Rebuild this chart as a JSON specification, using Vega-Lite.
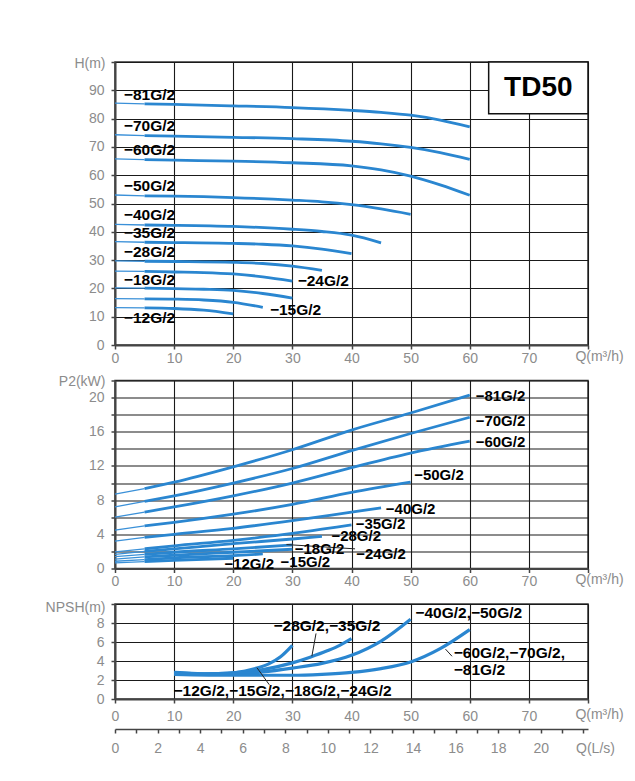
{
  "$schema": "https://vega.github.io/schema/vega-lite/v6.json",
  "background": "white",
  "padding": {"left": 44, "top": 54, "right": 5, "bottom": 5},
  "spacing": 35.5,
  "bounds": "flush",
  "config": {
    "font": "Liberation Sans",
    "view": {"stroke": "#333333", "strokeWidth": 1.5},
    "axis": {
      "labelFont": "Liberation Sans", "labelFontSize": 14, "labelColor": "#8c8c8c",
      "titleFont": "Liberation Sans", "titleFontSize": 14, "titleColor": "#8c8c8c", "titleFontWeight": "normal",
      "gridColor": "#1a1a1a", "gridOpacity": 1, "gridWidth": 1.1,
      "domainColor": "#444444", "domainWidth": 2, "tickColor": "#444444", "tickWidth": 1.5, "tickSize": 4,
      "labelFlush": false, "labelOverlap": false
    }
  },
  "datasets": {
    "H": [
      {"m":"81","q":0,"v":85.5},{"m":"81","q":5,"v":85.2},{"m":"81","q":10,"v":85.0},{"m":"81","q":20,"v":84.5},{"m":"81","q":30,"v":83.9},{"m":"81","q":40,"v":82.9},{"m":"81","q":45,"v":82.2},{"m":"81","q":50,"v":81.2},{"m":"81","q":55,"v":79.5},{"m":"81","q":60,"v":77.1},
      {"m":"70","q":0,"v":74.3},{"m":"70","q":5,"v":74.0},{"m":"70","q":10,"v":73.8},{"m":"70","q":20,"v":73.4},{"m":"70","q":30,"v":72.9},{"m":"70","q":40,"v":72.0},{"m":"70","q":45,"v":71.1},{"m":"70","q":50,"v":69.8},{"m":"70","q":55,"v":68.0},{"m":"70","q":60,"v":65.6},
      {"m":"60","q":0,"v":65.8},{"m":"60","q":5,"v":65.5},{"m":"60","q":10,"v":65.3},{"m":"60","q":20,"v":65.0},{"m":"60","q":30,"v":64.4},{"m":"60","q":40,"v":63.3},{"m":"60","q":45,"v":61.9},{"m":"60","q":50,"v":59.7},{"m":"60","q":55,"v":56.6},{"m":"60","q":60,"v":52.9},
      {"m":"50","q":0,"v":53.0},{"m":"50","q":5,"v":52.7},{"m":"50","q":10,"v":52.6},{"m":"50","q":20,"v":52.1},{"m":"50","q":30,"v":51.2},{"m":"50","q":35,"v":50.6},{"m":"50","q":40,"v":49.6},{"m":"50","q":45,"v":48.1},{"m":"50","q":50,"v":46.2},
      {"m":"40","q":0,"v":42.6},{"m":"40","q":5,"v":42.4},{"m":"40","q":10,"v":42.3},{"m":"40","q":20,"v":41.9},{"m":"40","q":30,"v":40.9},{"m":"40","q":35,"v":40.1},{"m":"40","q":40,"v":38.8},{"m":"40","q":45,"v":36.1},
      {"m":"35","q":0,"v":36.5},{"m":"35","q":5,"v":36.3},{"m":"35","q":10,"v":36.2},{"m":"35","q":20,"v":35.9},{"m":"35","q":25,"v":35.6},{"m":"35","q":30,"v":35.0},{"m":"35","q":35,"v":33.9},{"m":"35","q":40,"v":32.3},
      {"m":"28","q":0,"v":29.7},{"m":"28","q":5,"v":29.6},{"m":"28","q":10,"v":29.5},{"m":"28","q":20,"v":29.2},{"m":"28","q":25,"v":28.8},{"m":"28","q":30,"v":27.9},{"m":"28","q":35,"v":26.4},
      {"m":"24","q":0,"v":26.1},{"m":"24","q":5,"v":26.0},{"m":"24","q":10,"v":25.8},{"m":"24","q":15,"v":25.6},{"m":"24","q":20,"v":25.1},{"m":"24","q":25,"v":24.1},{"m":"24","q":30,"v":22.6},
      {"m":"18","q":0,"v":20.2},{"m":"18","q":5,"v":20.1},{"m":"18","q":10,"v":19.9},{"m":"18","q":15,"v":19.7},{"m":"18","q":20,"v":19.3},{"m":"18","q":25,"v":18.2},{"m":"18","q":30,"v":16.6},
      {"m":"15","q":0,"v":16.4},{"m":"15","q":5,"v":16.3},{"m":"15","q":10,"v":16.2},{"m":"15","q":15,"v":15.9},{"m":"15","q":20,"v":15.1},{"m":"15","q":25,"v":13.3},
      {"m":"12","q":0,"v":13.2},{"m":"12","q":5,"v":13.1},{"m":"12","q":10,"v":12.9},{"m":"12","q":15,"v":12.3},{"m":"12","q":20,"v":11.0}
    ],
    "P": [
      {"m":"81","q":0,"v":8.7},{"m":"81","q":5,"v":9.35},{"m":"81","q":10,"v":10.1},{"m":"81","q":20,"v":11.9},{"m":"81","q":30,"v":13.9},{"m":"81","q":40,"v":16.2},{"m":"81","q":50,"v":18.2},{"m":"81","q":60,"v":20.3},
      {"m":"70","q":0,"v":7.2},{"m":"70","q":5,"v":7.85},{"m":"70","q":10,"v":8.5},{"m":"70","q":20,"v":10.0},{"m":"70","q":30,"v":11.7},{"m":"70","q":40,"v":13.8},{"m":"70","q":50,"v":15.8},{"m":"70","q":60,"v":17.7},
      {"m":"60","q":0,"v":6.0},{"m":"60","q":5,"v":6.6},{"m":"60","q":10,"v":7.2},{"m":"60","q":20,"v":8.5},{"m":"60","q":30,"v":10.0},{"m":"60","q":40,"v":11.8},{"m":"60","q":50,"v":13.5},{"m":"60","q":60,"v":14.9},
      {"m":"50","q":0,"v":4.5},{"m":"50","q":5,"v":5.0},{"m":"50","q":10,"v":5.4},{"m":"50","q":20,"v":6.35},{"m":"50","q":30,"v":7.5},{"m":"50","q":40,"v":8.9},{"m":"50","q":50,"v":10.1},
      {"m":"40","q":0,"v":3.2},{"m":"40","q":5,"v":3.65},{"m":"40","q":10,"v":4.0},{"m":"40","q":20,"v":4.7},{"m":"40","q":30,"v":5.6},{"m":"40","q":40,"v":6.6},{"m":"40","q":45,"v":7.1},
      {"m":"35","q":0,"v":1.95},{"m":"35","q":5,"v":2.3},{"m":"35","q":10,"v":2.65},{"m":"35","q":20,"v":3.3},{"m":"35","q":30,"v":4.1},{"m":"35","q":35,"v":4.6},{"m":"35","q":40,"v":5.1},
      {"m":"28","q":0,"v":1.65},{"m":"28","q":5,"v":2.0},{"m":"28","q":10,"v":2.3},{"m":"28","q":20,"v":2.9},{"m":"28","q":30,"v":3.45},{"m":"28","q":35,"v":3.75},
      {"m":"24","q":0,"v":1.4},{"m":"24","q":5,"v":1.65},{"m":"24","q":10,"v":1.9},{"m":"24","q":20,"v":2.3},{"m":"24","q":30,"v":2.75},
      {"m":"18","q":0,"v":1.1},{"m":"18","q":5,"v":1.35},{"m":"18","q":10,"v":1.55},{"m":"18","q":20,"v":1.9},{"m":"18","q":30,"v":2.25},
      {"m":"15","q":0,"v":0.85},{"m":"15","q":5,"v":1.05},{"m":"15","q":10,"v":1.25},{"m":"15","q":20,"v":1.5},{"m":"15","q":25,"v":1.7},
      {"m":"12","q":0,"v":0.65},{"m":"12","q":5,"v":0.8},{"m":"12","q":10,"v":0.95},{"m":"12","q":20,"v":1.2}
    ],
    "N": [
      {"m":"g30","q":10,"v":2.8},{"m":"g30","q":13,"v":2.7},{"m":"g30","q":16,"v":2.65},{"m":"g30","q":19,"v":2.7},{"m":"g30","q":22,"v":2.95},{"m":"g30","q":24,"v":3.25},{"m":"g30","q":26,"v":3.7},{"m":"g30","q":28,"v":4.45},{"m":"g30","q":30,"v":5.65},
      {"m":"g40","q":10,"v":2.75},{"m":"g40","q":15,"v":2.65},{"m":"g40","q":20,"v":2.75},{"m":"g40","q":25,"v":3.1},{"m":"g40","q":30,"v":3.8},{"m":"g40","q":33,"v":4.4},{"m":"g40","q":36,"v":5.1},{"m":"g40","q":38,"v":5.65},{"m":"g40","q":40,"v":6.35},
      {"m":"g50","q":10,"v":2.7},{"m":"g50","q":15,"v":2.6},{"m":"g50","q":20,"v":2.65},{"m":"g50","q":25,"v":2.85},{"m":"g50","q":30,"v":3.25},{"m":"g50","q":35,"v":3.75},{"m":"g50","q":40,"v":4.6},{"m":"g50","q":45,"v":6.1},{"m":"g50","q":50,"v":8.4},
      {"m":"g60","q":10,"v":2.6},{"m":"g60","q":20,"v":2.5},{"m":"g60","q":30,"v":2.5},{"m":"g60","q":35,"v":2.6},{"m":"g60","q":40,"v":2.8},{"m":"g60","q":45,"v":3.2},{"m":"g60","q":50,"v":3.9},{"m":"g60","q":55,"v":5.3},{"m":"g60","q":60,"v":7.3}
    ],
    "HL": [
      {"q":1.5,"v":88.2,"t":"−81G/2"},{"q":1.5,"v":77.4,"t":"−70G/2"},{"q":1.5,"v":69.0,"t":"−60G/2"},{"q":1.5,"v":56.2,"t":"−50G/2"},
      {"q":1.5,"v":45.8,"t":"−40G/2"},{"q":1.5,"v":39.4,"t":"−35G/2"},{"q":1.5,"v":33.0,"t":"−28G/2"},{"q":1.5,"v":23.1,"t":"−18G/2"},
      {"q":1.5,"v":9.6,"t":"−12G/2"},{"q":30.9,"v":22.5,"t":"−24G/2"},{"q":26.2,"v":12.5,"t":"−15G/2"}
    ],
    "PL": [
      {"q":61.0,"v":20.15,"t":"−81G/2"},{"q":61.0,"v":17.3,"t":"−70G/2"},{"q":61.0,"v":14.75,"t":"−60G/2"},{"q":50.6,"v":10.9,"t":"−50G/2"},
      {"q":45.8,"v":7.0,"t":"−40G/2"},{"q":40.7,"v":5.25,"t":"−35G/2"},{"q":36.6,"v":3.75,"t":"−28G/2"},{"q":40.8,"v":1.75,"t":"−24G/2"},
      {"q":30.4,"v":2.3,"t":"−18G/2"},{"q":28.0,"v":0.8,"t":"−15G/2"},{"q":18.5,"v":0.5,"t":"−12G/2"}
    ],
    "NL": [
      {"q":26.8,"v":7.7,"t":"−28G/2,−35G/2"},{"q":50.8,"v":9.05,"t":"−40G/2,−50G/2"},
      {"q":57.3,"v":4.8,"t":"−60G/2,−70G/2,"},{"q":57.3,"v":3.05,"t":"−81G/2"},
      {"q":9.9,"v":0.82,"t":"−12G/2,−15G/2,−18G/2,−24G/2"}
    ]
  },
  "vconcat": [
    {
      "width": 473, "height": 283,
      "encoding": {
        "x": {"field": "q", "type": "quantitative", "scale": {"domain": [0, 80], "nice": false},
              "axis": {"values": [0,10,20,30,40,50,60,70,80], "labelExpr": "datum.value == 80 ? '' : datum.label", "labelPadding": 2,
                       "title": "Q(m³/h)", "titleX": 484, "titleY": 11, "titleAlign": "center", "titleBaseline": "middle"}},
        "y": {"field": "v", "type": "quantitative", "scale": {"domain": [0, 100], "nice": false},
              "axis": {"values": [0,10,20,30,40,50,60,70,80,90,100], "labelExpr": "datum.value == 100 ? '' : datum.label", "labelPadding": 7,
                       "title": "H(m)", "titleAngle": 0, "titleAlign": "right", "titleBaseline": "middle", "titleX": -10, "titleY": 1}}
      },
      "layer": [
        {"data": {"name": "H"}, "transform": [{"filter": "datum.q <= 5"}], "mark": {"type": "line", "color": "#3a90d8", "strokeWidth": 1.3, "interpolate": "monotone"}, "encoding": {"detail": {"field": "m"}}},
        {"data": {"name": "H"}, "transform": [{"filter": "datum.q >= 5"}], "mark": {"type": "line", "color": "#2a86d0", "strokeWidth": 2.8, "interpolate": "monotone"}, "encoding": {"detail": {"field": "m"}}},
        {"data": {"values": [{"q": 63.2, "q2": 80, "v": 81.7, "v2": 100}]}, "mark": {"type": "rect", "fill": "white", "stroke": "#111111", "strokeWidth": 1.5}, "encoding": {"x2": {"field": "q2"}, "y2": {"field": "v2"}}},
        {"data": {"values": [{"q": 71.6, "v": 90.7, "t": "TD50"}]}, "mark": {"type": "text", "fontSize": 28, "fontWeight": "bold", "color": "#000000", "align": "center", "baseline": "middle"}, "encoding": {"text": {"field": "t"}}},
        {"data": {"name": "HL"}, "mark": {"type": "text", "fontSize": 15.5, "fontWeight": "bold", "color": "#000000", "align": "left", "baseline": "middle"}, "encoding": {"text": {"field": "t"}}}
      ]
    },
    {
      "width": 473, "height": 188,
      "encoding": {
        "x": {"field": "q", "type": "quantitative", "scale": {"domain": [0, 80], "nice": false},
              "axis": {"values": [0,10,20,30,40,50,60,70,80], "labelExpr": "datum.value == 80 ? '' : datum.label", "labelPadding": 2,
                       "title": "Q(m³/h)", "titleX": 484, "titleY": 11, "titleAlign": "center", "titleBaseline": "middle"}},
        "y": {"field": "v", "type": "quantitative", "scale": {"domain": [0, 22], "nice": false},
              "axis": {"values": [0,2,4,6,8,10,12,14,16,18,20,22], "labelExpr": "(datum.value % 4 == 0 && datum.value <= 20) ? datum.label : ''", "labelPadding": 7,
                       "title": "P2(kW)", "titleAngle": 0, "titleAlign": "right", "titleBaseline": "middle", "titleX": -10, "titleY": 1}}
      },
      "layer": [
        {"data": {"name": "P"}, "transform": [{"filter": "datum.q <= 5"}], "mark": {"type": "line", "color": "#3a90d8", "strokeWidth": 1.3}, "encoding": {"detail": {"field": "m"}}},
        {"data": {"name": "P"}, "transform": [{"filter": "datum.q >= 5"}], "mark": {"type": "line", "color": "#2a86d0", "strokeWidth": 2.8, "interpolate": "monotone"}, "encoding": {"detail": {"field": "m"}}},
        {"data": {"values": [{"q": 29, "v": 2.8, "q2": 40.6, "v2": 2.3}]}, "mark": {"type": "rule", "color": "#222222", "strokeWidth": 1}, "encoding": {"x2": {"field": "q2"}, "y2": {"field": "v2"}}},
        {"data": {"name": "PL"}, "mark": {"type": "text", "fontSize": 15, "fontWeight": "bold", "color": "#000000", "align": "left", "baseline": "middle"}, "encoding": {"text": {"field": "t"}}}
      ]
    },
    {
      "width": 473, "height": 95,
      "resolve": {"scale": {"x": "independent"}},
      "layer": [
        {
          "encoding": {
            "x": {"field": "q", "type": "quantitative", "scale": {"domain": [0, 80], "nice": false},
                  "axis": {"values": [0,10,20,30,40,50,60,70,80], "labelExpr": "datum.value == 80 ? '' : datum.label", "labelPadding": 6,
                           "title": "Q(m³/h)", "titleX": 484, "titleY": 15, "titleAlign": "center", "titleBaseline": "middle"}},
            "y": {"field": "v", "type": "quantitative", "scale": {"domain": [0, 10], "nice": false},
                  "axis": {"values": [0,2,4,6,8,10], "labelExpr": "datum.value < 10 ? datum.label : ''", "labelPadding": 7,
                           "title": "NPSH(m)", "titleAngle": 0, "titleAlign": "right", "titleBaseline": "middle", "titleX": -10, "titleY": 3}}
          },
          "layer": [
            {"data": {"name": "N"}, "mark": {"type": "line", "color": "#2a86d0", "strokeWidth": 3.2, "interpolate": "monotone"}, "encoding": {"detail": {"field": "m"}}},
            {"data": {"values": [{"q": 24.0, "v": 3.3, "q2": 26.1, "v2": 1.5}, {"q": 33.3, "v": 4.5, "q2": 34.0, "v2": 6.9}, {"q": 55.9, "v": 5.25, "q2": 57.0, "v2": 4.5}]}, "mark": {"type": "rule", "color": "#222222", "strokeWidth": 1}, "encoding": {"x2": {"field": "q2"}, "y2": {"field": "v2"}}},
            {"data": {"name": "NL"}, "mark": {"type": "text", "fontSize": 15.5, "fontWeight": "bold", "color": "#000000", "align": "left", "baseline": "middle"}, "encoding": {"text": {"field": "t"}}}
          ]
        },
        {
          "data": {"values": [{"ls": 0}, {"ls": 22.222}]},
          "mark": {"type": "point", "opacity": 0},
          "encoding": {
            "x": {"field": "ls", "type": "quantitative", "scale": {"domain": [0, 22.222], "nice": false},
                  "axis": {"orient": "bottom", "offset": 30, "grid": false, "domainWidth": 1.5, "values": [0,1,2,3,4,5,6,7,8,9,10,11,12,13,14,15,16,17,18,19,20,21,22],
                           "labelExpr": "(datum.value % 2 == 0 && datum.value < 22) ? datum.label : ''", "labelPadding": 8,
                           "title": "Q(L/s)", "titleX": 480, "titleY": 19, "titleAlign": "center", "titleBaseline": "middle"}}
          }
        }
      ]
    }
  ]
}
